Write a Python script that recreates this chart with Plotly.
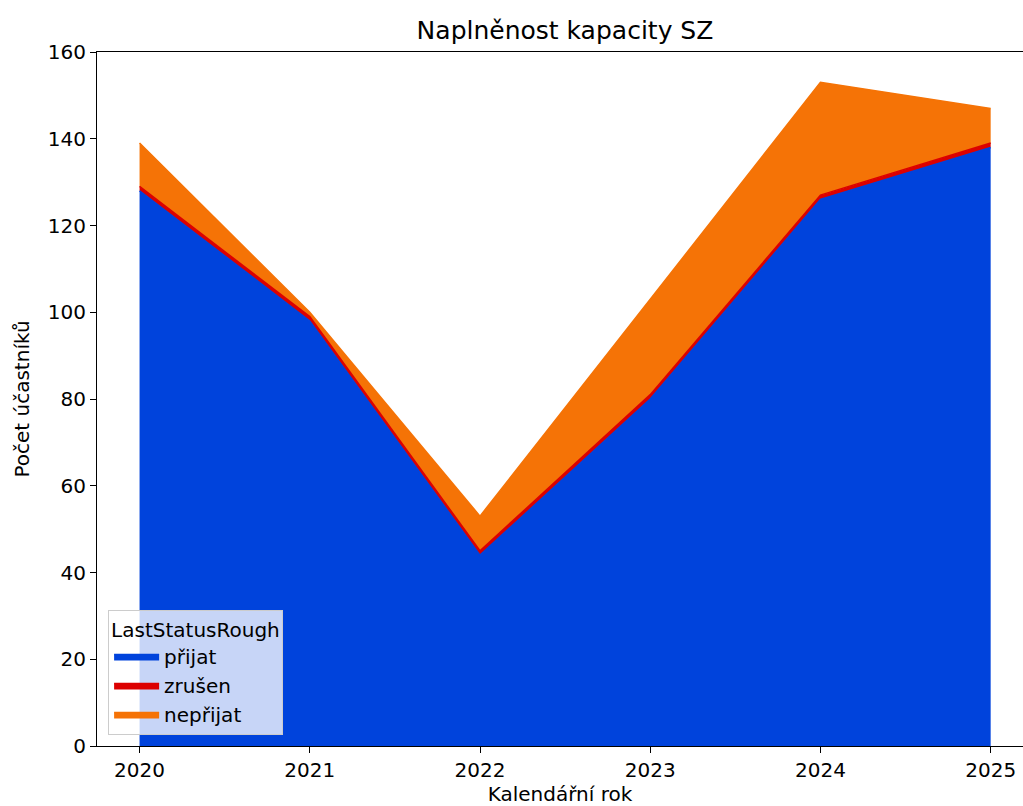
import plotly.graph_objects as go

years = [2020, 2021, 2022, 2023, 2024, 2025]
prijat = [128, 98, 44, 80, 126, 138]
zrusen = [1, 1, 1, 1, 1, 1]
neprijat = [10, 1, 8, 22, 26, 8]

series = [
    ('přijat', prijat, '#0043DC'),
    ('zrušen', zrusen, '#DC0000'),
    ('nepřijat', neprijat, '#F57306'),
]

font = 'DejaVu Sans'

fig = go.Figure()
for name, values, color in series:
    fig.add_trace(go.Scatter(
        x=years,
        y=values,
        name=name,
        mode='lines',
        stackgroup='one',
        line=dict(color=color, width=1.5),
        fillcolor=color,
    ))

fig.update_layout(
    width=1023,
    height=806,
    margin=dict(l=97, r=0, t=52, b=60),
    paper_bgcolor='white',
    plot_bgcolor='white',
    font=dict(family=font, size=20, color='black'),
    title=dict(
        text='Naplněnost kapacity SZ',
        font=dict(size=25),
        xref='container', x=565 / 1023, xanchor='center',
        yref='container', y=1 - 30 / 806, yanchor='middle',
    ),
    showlegend=True,
    legend=dict(
        title=dict(text='LastStatusRough', font=dict(size=20), side='top'),
        traceorder='normal',
        itemwidth=45,
        x=0.012, y=0.016, xanchor='left', yanchor='bottom',
        bgcolor='rgba(255,255,255,0.78)',
        bordercolor='#cccccc', borderwidth=1,
        font=dict(size=20),
    ),
)

fig.update_xaxes(
    range=[2019.75, 2025.19],
    tickvals=years,
    ticktext=[str(y) for y in years],
    ticks='outside', ticklen=6, tickcolor='black',
    tickfont=dict(size=20),
    showline=True, linecolor='black', linewidth=1.2, mirror=True,
    showgrid=False, zeroline=False,
    title=dict(text='Kalendářní rok', font=dict(size=20), standoff=3),
)
fig.update_yaxes(
    range=[0, 160],
    tickvals=[0, 20, 40, 60, 80, 100, 120, 140, 160],
    ticks='outside', ticklen=6, tickcolor='black',
    tickfont=dict(size=20),
    showline=True, linecolor='black', linewidth=1.2,
    showgrid=False, zeroline=False,
    title=dict(text='Počet účastníků', font=dict(size=20), standoff=12),
)

# the page has a default 8px body margin, drop it so the figure sits at 0,0
fig.write_html(
    "out.html",
    config={'displayModeBar': False},
    post_script="document.body.style.margin = '0';",
)
